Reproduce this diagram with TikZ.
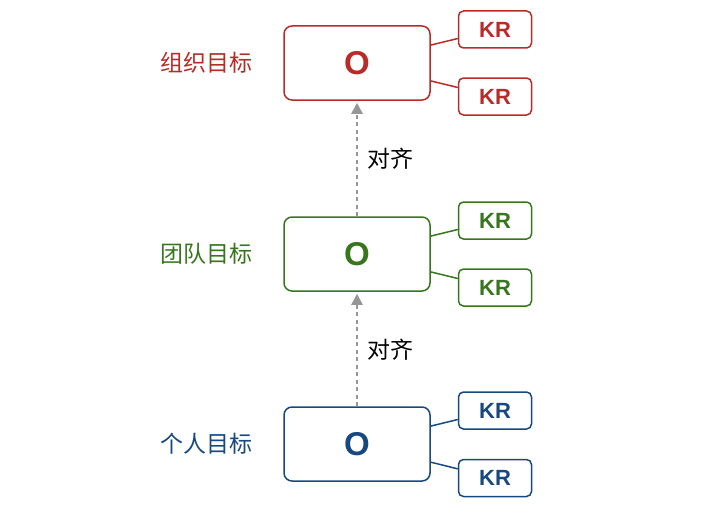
\documentclass[tikz,border=0pt]{standalone}
\usepackage{fontspec}
\setmainfont{Liberation Sans}
\newfontfamily\cjk{Noto Sans CJK SC}
\usetikzlibrary{arrows.meta}
\definecolor{cred}{RGB}{183,44,40}
\definecolor{cgreen}{RGB}{56,118,29}
\definecolor{cblue}{RGB}{24,72,128}
\definecolor{cgray}{RGB}{150,150,150}
\tikzset{
  obox/.style={draw, line width=1.5pt, rounded corners=8pt, minimum width=146pt, minimum height=74pt, inner sep=0pt, fill=white,
    font=\fontsize{33}{33}\selectfont\bfseries},
  krbox/.style={draw, line width=1.5pt, rounded corners=5pt, minimum width=73pt, minimum height=37pt, inner sep=0pt, fill=white,
    font=\fontsize{22}{22}\selectfont\bfseries},
  lvl/.style={font=\cjk\fontsize{23}{23}\selectfont, inner sep=0pt, anchor=center},
  align/.style={font=\cjk\fontsize{23}{23}\selectfont, inner sep=0pt, anchor=west, text=black},
  link/.style={line width=1.5pt},
  up/.style={draw=cgray, line width=2.4pt, dash pattern=on 4pt off 3.5pt, -{Triangle[length=11pt,width=11pt]}, shorten >=2pt}
}
\begin{document}
\begin{tikzpicture}[x=1pt,y=-1pt]
\useasboundingbox (0,0) rectangle (714,519);
% top (red)
\node[obox, draw=cred, text=cred] (o1) at (357,63) {O};
\node[krbox, draw=cred, text=cred] (k11) at (495,29.5) {KR};
\node[krbox, draw=cred, text=cred] (k12) at (495,96.5) {KR};
\node[lvl, text=cred] (l1) at (206,63) {组织目标};
\draw[link, cred] (o1) -- (k11);
\draw[link, cred] (o1) -- (k12);
% middle (green)
\node[obox, draw=cgreen, text=cgreen] (o2) at (357,254) {O};
\node[krbox, draw=cgreen, text=cgreen] (k21) at (495,220.5) {KR};
\node[krbox, draw=cgreen, text=cgreen] (k22) at (495,287.5) {KR};
\node[lvl, text=cgreen] (l2) at (206,254) {团队目标};
\draw[link, cgreen] (o2) -- (k21);
\draw[link, cgreen] (o2) -- (k22);
% bottom (blue)
\node[obox, draw=cblue, text=cblue] (o3) at (357,444) {O};
\node[krbox, draw=cblue, text=cblue] (k31) at (495,410.5) {KR};
\node[krbox, draw=cblue, text=cblue] (k32) at (495,478) {KR};
\node[lvl, text=cblue] (l3) at (206,444) {个人目标};
\draw[link, cblue] (o3) -- (k31);
\draw[link, cblue] (o3) -- (k32);
% alignment arrows
\draw[up] (o2.north) -- (o1.south);
\draw[up] (o3.north) -- (o2.south);
\node[align] (a1) at (367,159) {对齐};
\node[align] (a2) at (367,350) {对齐};
\end{tikzpicture}
\end{document}
